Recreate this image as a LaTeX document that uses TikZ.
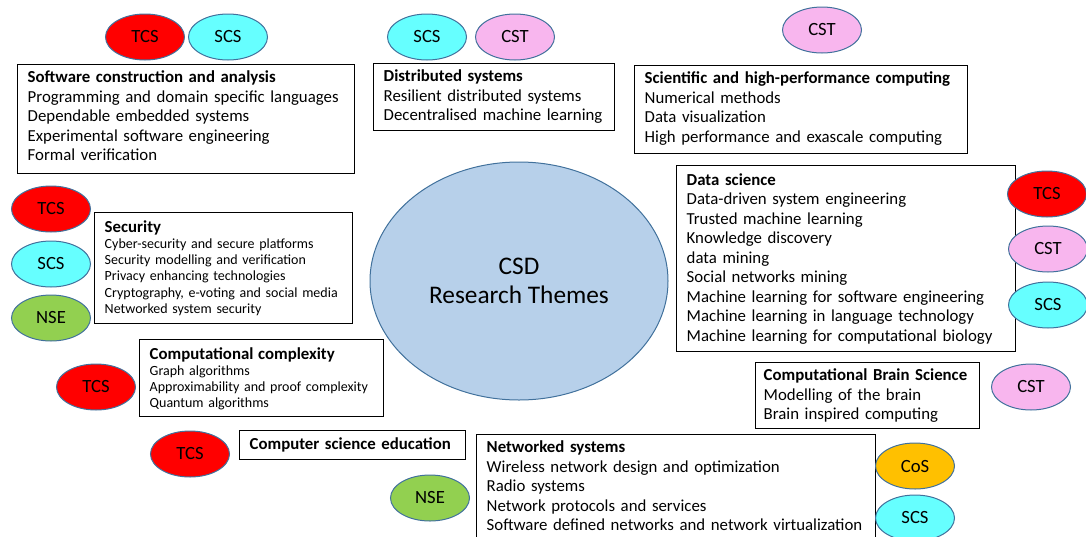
\documentclass[tikz,border=0pt]{standalone}
\usepackage{fontspec}
\setmainfont{Carlito}
\usepackage{tikz}
\usetikzlibrary{shapes.geometric}

\definecolor{tcsred}{RGB}{255,0,0}
\definecolor{scscyan}{RGB}{102,255,255}
\definecolor{cstpink}{RGB}{248,182,238}
\definecolor{nsegreen}{RGB}{146,208,80}
\definecolor{cosorange}{RGB}{255,192,0}
\definecolor{unitline}{RGB}{65,113,156}
\definecolor{hubfill}{RGB}{183,208,234}

\newcommand{\themehead}[1]{{\fontsize{12.6}{14.65}\selectfont\bfseries #1}}

\begin{document}
\begin{tikzpicture}[x=0.75pt,y=0.75pt,yscale=-1,xscale=1,
  unit/.style={ellipse, draw=unitline, line width=0.75pt, fill=#1, minimum width=59.25pt, minimum height=34.5pt, inner sep=0pt, font=\fontsize{14}{16}\selectfont},
  theme/.style={draw, line width=1.1pt, anchor=north west, align=left, inner xsep=7.5pt, inner ysep=3pt, text height=10.5pt, font=\fontsize{12.6}{14.65}\selectfont},
  small/.style={font=\fontsize{10.5}{12.2}\selectfont}
  ]
\useasboundingbox (0,0) rectangle (1086,536);
\clip (0,0) rectangle (1086,536);

%Shape: Ellipse
\node [ellipse, draw=unitline, fill=hubfill, line width=0.75pt, minimum width=223.5pt, minimum height=178.5pt, inner sep=0pt, align=center, font=\fontsize{19}{21.75}\selectfont] (hub) at (519,281) {CSD\\Research Themes};

% Text Node
\node [theme, text width=237.75pt, text depth=65.25pt] (soft) at (17,64) {\themehead{Software construction and analysis}\\Programming and domain specific languages\\Dependable embedded systems\\Experimental software engineering\\Formal verification};
% Text Node
\node [theme, text width=165.75pt, text depth=33.75pt] (dist) at (373,63) {\themehead{Distributed systems}\\Resilient distributed systems\\Decentralised machine learning};
% Text Node
\node [theme, text width=234.75pt, text depth=49.5pt] (sci) at (634,65) {\themehead{Scientific and high-performance computing}\\Numerical methods\\Data visualization\\High performance and exascale computing};
% Text Node
\node [theme, small, text width=178.5pt, text height=11.5pt, text depth=65.75pt] (sec) at (94,212) {\themehead{Security}\\Cyber-security and secure platforms\\Security modelling and verification\\Privacy enhancing technologies\\Cryptography, e-voting and social media\\Networked system security};
% Text Node
\node [theme, small, text width=168pt, text height=11.5pt, text depth=40.25pt] (comp) at (139,339) {\themehead{Computational complexity}\\Graph algorithms\\Approximability and proof complexity\\Quantum algorithms};
% Text Node
\node [theme, text width=154.5pt, text height=11.25pt, text depth=4.5pt] (edu) at (239,430) {\themehead{Computer science education}};
% Text Node
\node [theme, text width=239.25pt, text height=11.5pt, text depth=122pt] (data) at (676,165) {\themehead{Data science}\\Data-driven system engineering\\Trusted machine learning\\Knowledge discovery\\data mining\\Social networks mining\\Machine learning for software engineering\\Machine learning in language technology\\Machine learning for computational biology};
% Text Node
\node [theme, inner xsep=6pt, text width=156pt, text depth=33pt] (brain) at (755,362) {\themehead{Computational Brain Science}\\Modelling of the brain\\Brain inspired computing};
% Text Node
\node [theme, text width=284.25pt, text depth=69pt] (net) at (476,434) {\themehead{Networked systems}\\Wireless network design and optimization\\Radio systems\\Network protocols and services\\Software defined networks and network virtualization};

%Shape: Ellipse
\node [unit=tcsred] (tcsSoft) at (145,37) {TCS};
\node [unit=scscyan] (scsSoft) at (228,37) {SCS};
\node [unit=scscyan] (scsDist) at (427,37) {SCS};
\node [unit=cstpink] (cstDist) at (515,37) {CST};
\node [unit=cstpink] (cstSci) at (822,30) {CST};
%Shape: Ellipse
\node [unit=tcsred] (tcsSec) at (51,209) {TCS};
\node [unit=scscyan] (scsSec) at (51,264) {SCS};
\node [unit=nsegreen] (nseSec) at (51,318) {NSE};
\node [unit=tcsred] (tcsComp) at (96,387) {TCS};
\node [unit=tcsred] (tcsEdu) at (190,454) {TCS};
\node [unit=nsegreen] (nseNet) at (430,498) {NSE};
%Shape: Ellipse
\node [unit=tcsred] (tcsData) at (1047,194) {TCS};
\node [unit=cstpink] (cstData) at (1048,249) {CST};
\node [unit=scscyan] (scsData) at (1048,305) {SCS};
\node [unit=cstpink] (cstBrain) at (1031,387) {CST};
\node [unit=cosorange] (cosNet) at (915,466) {CoS};
\node [unit=scscyan] (scsNet) at (915,518) {SCS};

\end{tikzpicture}
\end{document}
